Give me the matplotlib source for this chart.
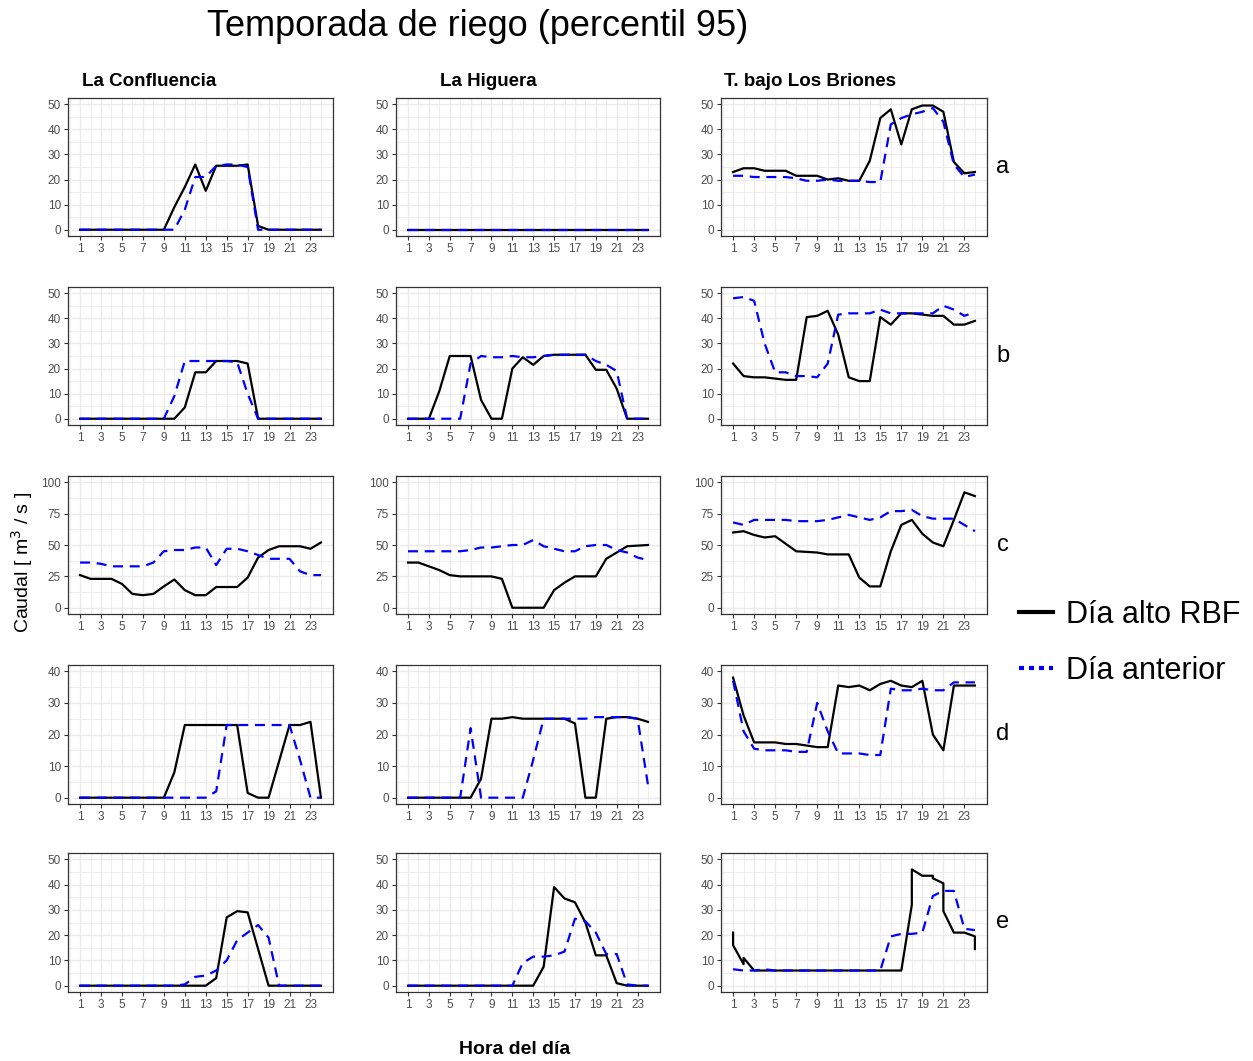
import matplotlib
matplotlib.use("Agg")
import matplotlib.pyplot as plt
from matplotlib.lines import Line2D
from matplotlib.ticker import MultipleLocator, FixedLocator

plt.rcParams['font.family'] = ['Liberation Sans', 'DejaVu Sans']

# ---------------- data ----------------
horas = list(range(1, 25))
hora_ticks = list(range(1, 24, 2))

estaciones = ["La Confluencia", "La Higuera", "T. bajo Los Briones"]
filas = ["a", "b", "c", "d", "e"]

# Row a
conf_a_alto = [0, 0, 0, 0, 0, 0, 0, 0, 0, 9, 17, 26, 15.5, 25.5, 25.5, 25.5, 26, 1.5, 0, 0, 0, 0, 0, 0]
conf_a_ant = [0, 0, 0, 0, 0, 0, 0, 0, 0, 0, 8, 21, 21, 25.5, 26, 26, 25, 0, 0, 0, 0, 0, 0, 0]
hig_a_alto = [0] * 24
hig_a_ant = [0] * 24
bri_a_alto = [23, 24.5, 24.5, 23.5, 23.5, 23.5, 21.5, 21.5, 21.5, 20, 20.5, 19.5, 19.5, 27.5, 44.5, 48, 34, 48, 49.5, 49.5, 47, 27, 22.5, 23]
bri_a_ant = [21.5, 21.5, 21, 21, 21, 21, 20.5, 19.5, 19.5, 20, 19.5, 19.5, 19.5, 19, 19, 42, 44.5, 46, 47, 48.5, 43, 26, 21, 22]

# Row b
conf_b_alto = [0, 0, 0, 0, 0, 0, 0, 0, 0, 0, 4.5, 18.5, 18.5, 23, 23, 23, 22, 0, 0, 0, 0, 0, 0, 0]
conf_b_ant = [0, 0, 0, 0, 0, 0, 0, 0, 0, 9, 23, 23, 23, 23, 23, 22.5, 10, 0, 0, 0, 0, 0, 0, 0]
hig_b_alto = [0, 0, 0, 11, 25, 25, 25, 7.5, 0, 0, 20, 24.5, 21.5, 25, 25.5, 25.5, 25.5, 25.5, 19.5, 19.5, 12, 0, 0, 0]
hig_b_ant = [0, 0, 0, 0, 0, 0, 22, 25, 24.5, 24.5, 25, 24.5, 24.5, 25, 25.5, 25.5, 25.5, 25.5, 23, 21.5, 19, 0, 0, 0]
bri_b_alto = [22, 17, 16.5, 16.5, 16, 15.5, 15.5, 40.5, 41, 43, 33.5, 16.5, 15, 15, 40.5, 37.5, 42, 42, 41.5, 41, 41, 37.5, 37.5, 39]
bri_b_ant = [48, 48.5, 47, 30, 18.5, 18.5, 17, 17, 16.5, 22, 41.5, 42, 42, 42, 43.5, 42, 42, 42, 42, 42, 45, 43.5, 41, 42.5]

# Row c
conf_c_alto = [26, 23, 23, 23, 19, 11, 10, 11, 17, 22.5, 14, 10, 10, 16.5, 16.5, 16.5, 24, 40, 46, 49, 49, 49, 47, 52]
conf_c_ant = [36, 36, 35, 33, 33, 33, 33, 36, 45, 46, 46, 48, 48, 34, 47, 47, 45, 42, 39, 39, 39, 29, 26, 26]
hig_c_alto = [36, 36, 33, 30, 26, 25, 25, 25, 25, 23, 0, 0, 0, 0, 14, 20, 25, 25, 25, 39, 44, 49, 49.5, 50]
hig_c_ant = [45, 45, 45, 45, 45, 45, 46, 48, 48, 49, 50, 50, 54, 49, 47, 45, 45, 49, 50, 50, 46, 44, 40, 38]
bri_c_alto = [60, 61, 58, 56, 57, 51, 45, 44.5, 44, 42.5, 42.5, 42.5, 24, 17, 17, 45, 66, 70, 59, 52, 49, 70, 92, 89]
bri_c_ant = [68, 66, 70, 70, 70, 70, 69, 69, 69, 70, 72, 74, 72, 70, 72, 77, 77, 78, 73, 71, 71, 71, 66, 61]

# Row d
conf_d_alto = [0, 0, 0, 0, 0, 0, 0, 0, 0, 8, 23, 23, 23, 23, 23, 23, 1.5, 0, 0, 11.5, 23, 23, 24, 0]
conf_d_ant = [0, 0, 0, 0, 0, 0, 0, 0, 0, 0, 0, 0, 0, 2, 23, 23, 23, 23, 23, 23, 23, 12, 0, 0]
hig_d_alto = [0, 0, 0, 0, 0, 0, 0, 6, 25, 25, 25.5, 25, 25, 25, 25, 25, 23.5, 0, 0, 25, 25.5, 25.5, 25, 24]
hig_d_ant = [0, 0, 0, 0, 0, 0, 22, 0, 0, 0, 0, 0, 12, 25, 25, 25, 25, 25, 25.5, 25.5, 25.5, 25.5, 25, 4]
bri_d_alto = [38, 26, 17.5, 17.5, 17.5, 17, 17, 16.5, 16, 16, 35.5, 35, 35.5, 34, 36, 37, 35.5, 35, 37, 20, 15, 35.5, 35.5, 35.5]
bri_d_ant = [37, 21, 15.5, 15, 15, 15, 14.5, 14.5, 30, 21, 14, 14, 14, 13.5, 13.5, 34.5, 34, 34, 34.5, 34, 34, 36.5, 36.5, 36.5]

# Row e
conf_e_alto = [0, 0, 0, 0, 0, 0, 0, 0, 0, 0, 0, 0, 0, 3, 27, 29.5, 29, 14.5, 0, 0, 0, 0, 0, 0]
conf_e_ant = [0, 0, 0, 0, 0, 0, 0, 0, 0, 0, 0.5, 3.5, 4, 6, 10, 18, 21, 24, 19, 0, 0, 0, 0, 0]
hig_e_alto = [0, 0, 0, 0, 0, 0, 0, 0, 0, 0, 0, 0, 0, 7.5, 39, 34.5, 33, 25, 12, 12, 1, 0, 0, 0]
hig_e_ant = [0, 0, 0, 0, 0, 0, 0, 0, 0, 0, 0, 9, 11.5, 11.5, 12, 13.5, 26.5, 25.5, 21, 12.5, 12.5, 0.5, 0, 0]
bri_e_alto_horas = [1, 1, 2, 2, 3, 4, 5, 6, 7, 8, 9, 10, 11, 12, 13, 14, 15, 16, 17, 18, 18, 19, 20, 20, 21, 21, 22, 23, 24, 24]
bri_e_alto = [21, 16, 8.5, 11, 6, 6, 6, 6, 6, 6, 6, 6, 6, 6, 6, 6, 6, 6, 6, 32, 46, 43.5, 43.5, 42.5, 40.5, 29.5, 21, 21, 19.5, 14.5]
bri_e_ant = [6.5, 6, 6, 6.5, 6, 6, 6, 6, 6, 6, 6, 6, 6, 6, 6, 19.5, 20.5, 20.5, 21, 35.5, 37.5, 37.5, 22.5, 22]

series = {
    ("a", 0): (horas, conf_a_alto, conf_a_ant), ("a", 1): (horas, hig_a_alto, hig_a_ant),
    ("a", 2): (horas, bri_a_alto, bri_a_ant),
    ("b", 0): (horas, conf_b_alto, conf_b_ant), ("b", 1): (horas, hig_b_alto, hig_b_ant),
    ("b", 2): (horas, bri_b_alto, bri_b_ant),
    ("c", 0): (horas, conf_c_alto, conf_c_ant), ("c", 1): (horas, hig_c_alto, hig_c_ant),
    ("c", 2): (horas, bri_c_alto, bri_c_ant),
    ("d", 0): (horas, conf_d_alto, conf_d_ant), ("d", 1): (horas, hig_d_alto, hig_d_ant),
    ("d", 2): (horas, bri_d_alto, bri_d_ant),
    ("e", 0): (horas, conf_e_alto, conf_e_ant), ("e", 1): (horas, hig_e_alto, hig_e_ant),
    ("e", 2): (bri_e_alto_horas, bri_e_alto, bri_e_ant),
}

# y scale per row: (upper limit of breaks, break step)
escala_y = {"a": (50, 10), "b": (50, 10), "c": (100, 25), "d": (40, 10), "e": (50, 10)}

# ---------------- layout (pixels) ----------------
W, H = 1253, 1061
col_lr = [(68, 333), (396, 660), (721, 987)]
row_tb = [(98, 236), (287, 425), (476, 614), (665, 804), (853, 992)]
col_title_x = [82, 440, 724]

fig = plt.figure(figsize=(W / 100, H / 100), dpi=100)
fig.patch.set_facecolor("white")


def rect(l, r, t, b):
    return [l / W, 1 - b / H, (r - l) / W, (b - t) / H]


GRID = "#EBEBEB"
BORDER = "#333333"
TICKLAB = "#4D4D4D"

for i, fila in enumerate(filas):
    top, bot = row_tb[i]
    ymax, step = escala_y[fila]
    for j in range(3):
        l, r = col_lr[j]
        ax = fig.add_axes(rect(l, r, top, bot))
        xh, alto, ant = series[(fila, j)]
        ax.plot(xh, alto, color="black", lw=1.6, solid_joinstyle="round", zorder=3)
        ax.plot(horas, ant, color="#0000FF", lw=1.6, linestyle=(0, (4.5, 3)), zorder=4)

        ax.set_xlim(1 - 0.05 * 23, 24 + 0.05 * 23)
        ax.set_ylim(-0.05 * ymax, ymax * 1.05)
        ax.xaxis.set_major_locator(FixedLocator(hora_ticks))
        ax.xaxis.set_minor_locator(FixedLocator(list(range(0, 26, 2))))
        ax.yaxis.set_major_locator(MultipleLocator(step))
        ax.yaxis.set_minor_locator(MultipleLocator(step / 2))
        ax.grid(which="major", color=GRID, lw=1.0, zorder=0)
        ax.grid(which="minor", color=GRID, lw=0.6, zorder=0)
        ax.set_axisbelow(True)
        for s in ax.spines.values():
            s.set_color(BORDER)
            s.set_linewidth(0.9)
        ax.tick_params(which="major", length=3, width=0.8, color=BORDER,
                       labelsize=8.5, labelcolor=TICKLAB, pad=2)
        ax.tick_params(which="minor", length=0)

        if i == 0:
            fig.text(col_title_x[j] / W, 1 - 81 / H, estaciones[j],
                     fontsize=13.5, fontweight="bold", va="center", ha="left")
        if j == 2:
            fig.text(1003 / W, 1 - (top + bot) / 2 / H, fila, fontsize=17,
                     va="center", ha="center")

# titles
fig.text(478 / W, 1 - 26 / H, "Temporada de riego (percentil 95)", fontsize=26,
         ha="center", va="center")
fig.text(515 / W, 1 - 1049 / H, "Hora del día", fontsize=14, fontweight="bold",
         ha="center", va="center")
fig.text(22 / W, 1 - 562 / H, "Caudal [ m$^3$ / s ]", fontsize=14, rotation=90,
         ha="center", va="center")

# legend
handles = [Line2D([], [], color="black", lw=3),
           Line2D([], [], color="#0000FF", lw=3, linestyle=(0, (1.2, 1.2)))]
fig.legend(handles, ["Día alto RBF", "Día anterior"], loc="center left",
           bbox_to_anchor=(1013 / W, 1 - 643 / H), frameon=False, fontsize=22,
           handlelength=1.1, handletextpad=0.45, labelspacing=0.85,
           borderaxespad=0, borderpad=0.2)

fig.savefig("out.png", dpi=100, facecolor="white")
